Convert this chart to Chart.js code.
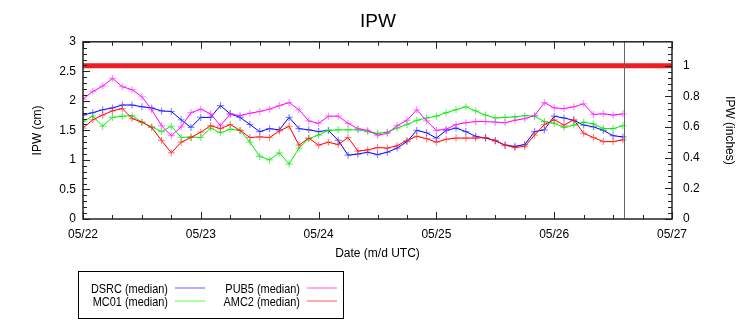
<!DOCTYPE html>
<html>
<head>
<meta charset="utf-8">
<script src="https://cdn.jsdelivr.net/npm/chart.js@4"></script>
<style>
  body { margin: 0; background: #fff; }
</style>
</head>
<body>
<canvas id="ipwChart" width="756" height="324"></canvas>
<script>
// hours since 05/22 00:00 UTC
const hours = [0, 2, 4, 6, 8, 10, 12, 14, 16, 18, 20, 22, 24, 26, 28, 30, 32, 34, 36, 38,
  40, 42, 44, 46, 48, 50, 52, 54, 56, 58, 60, 62, 64, 66, 68, 70, 72, 74, 76, 78,
  80, 82, 84, 86, 88, 90, 92, 94, 96, 98, 100, 102, 104, 106, 108, 110];

const dsrc = [1.76, 1.80, 1.85, 1.88, 1.93, 1.93, 1.90, 1.88, 1.83, 1.82, 1.68, 1.55, 1.72, 1.72, 1.92, 1.78, 1.72, 1.60, 1.48, 1.53,
  1.51, 1.72, 1.53, 1.51, 1.48, 1.50, 1.33, 1.08, 1.10, 1.13, 1.09, 1.13, 1.20, 1.31, 1.50, 1.46, 1.37, 1.50, 1.54, 1.48,
  1.40, 1.37, 1.33, 1.25, 1.23, 1.26, 1.48, 1.51, 1.74, 1.71, 1.67, 1.59, 1.56, 1.50, 1.41, 1.39];
const mc01 = [1.65, 1.74, 1.57, 1.72, 1.74, 1.75, 1.64, 1.56, 1.48, 1.57, 1.38, 1.39, 1.38, 1.54, 1.46, 1.52, 1.50, 1.30, 1.06, 1.00,
  1.12, 0.93, 1.20, 1.36, 1.42, 1.50, 1.51, 1.51, 1.51, 1.48, 1.45, 1.47, 1.54, 1.60, 1.67, 1.71, 1.74, 1.80, 1.85, 1.90,
  1.83, 1.76, 1.71, 1.72, 1.73, 1.75, 1.74, 1.65, 1.62, 1.55, 1.59, 1.64, 1.61, 1.53, 1.53, 1.58];
const pub5 = [2.03, 2.16, 2.25, 2.38, 2.24, 2.19, 2.07, 1.85, 1.58, 1.41, 1.56, 1.80, 1.86, 1.78, 1.58, 1.78, 1.75, 1.79, 1.82, 1.86,
  1.92, 1.97, 1.85, 1.66, 1.62, 1.74, 1.74, 1.62, 1.53, 1.50, 1.42, 1.45, 1.58, 1.67, 1.85, 1.66, 1.50, 1.52, 1.60, 1.63,
  1.65, 1.65, 1.64, 1.63, 1.67, 1.70, 1.75, 1.97, 1.88, 1.87, 1.90, 1.95, 1.77, 1.78, 1.76, 1.78];
const amc2 = [1.54, 1.68, 1.76, 1.83, 1.87, 1.70, 1.64, 1.55, 1.33, 1.12, 1.30, 1.38, 1.47, 1.58, 1.53, 1.60, 1.50, 1.38, 1.39, 1.38,
  1.49, 1.57, 1.25, 1.37, 1.25, 1.30, 1.26, 1.38, 1.15, 1.17, 1.21, 1.20, 1.24, 1.33, 1.40, 1.36, 1.30, 1.35, 1.37, 1.37,
  1.37, 1.38, 1.32, 1.25, 1.21, 1.23, 1.42, 1.60, 1.68, 1.59, 1.68, 1.45, 1.38, 1.31, 1.31, 1.34];

const dayLabels = ['05/22', '05/23', '05/24', '05/25', '05/26', '05/27'];
const cmTicks = [0, 0.5, 1, 1.5, 2, 2.5, 3];
const inchTicks = [0, 0.2, 0.4, 0.6, 0.8, 1];
const thresholdCm = 2.593;   // red line
const nowHour = 110.2;       // grey vertical line (time of plot)

function pts(arr) {
  return arr.map((v, i) => ({ x: hours[i], y: v }));
}

function series(label, arr, line, marker, legendColor) {
  return {
    label: label,
    data: pts(arr),
    borderColor: line,
    backgroundColor: marker,
    pointBorderColor: marker,
    pointStyle: 'cross',
    pointRadius: 3.5,
    pointBorderWidth: 1.2,
    borderWidth: 1,
    tension: 0,
    legendColor: legendColor
  };
}

const fontFamily = '"Liberation Sans", Arial, sans-serif';

// gnuplot-like frame with inward ticks
const framePlugin = {
  id: 'frame',
  afterDatasetsDraw(chart) {
    const { ctx, chartArea: a, scales } = chart;
    const tick = (x1, y1, x2, y2) => { ctx.moveTo(x1, y1); ctx.lineTo(x2, y2); };
    ctx.save();
    ctx.strokeStyle = '#222';
    ctx.lineWidth = 1;
    ctx.beginPath();
    // x ticks, every 6 h, major each day
    for (let h = 0; h <= 120; h += 6) {
      const x = Math.round(scales.x.getPixelForValue(h)) + 0.5;
      const len = h % 24 === 0 ? 7 : 4;
      tick(x, a.bottom, x, a.bottom - len);
      tick(x, a.top, x, a.top + len);
    }
    // left ticks every 0.1 cm
    for (let i = 0; i <= 30; i++) {
      const y = Math.round(scales.y.getPixelForValue(i / 10)) + 0.5;
      tick(a.left, y, a.left + (i % 5 === 0 ? 7 : 4), y);
    }
    // right ticks every 0.04 in
    for (let i = 0; i * 0.04 <= scales.y2.max; i++) {
      const y = Math.round(scales.y2.getPixelForValue(i * 0.04)) + 0.5;
      tick(a.right, y, a.right - (i % 5 === 0 ? 7 : 4), y);
    }
    ctx.stroke();
    // now line
    ctx.strokeStyle = '#666';
    ctx.beginPath();
    const nx = Math.round(scales.x.getPixelForValue(nowHour)) + 0.5;
    tick(nx, a.top, nx, a.bottom);
    ctx.stroke();
    // frame
    ctx.strokeStyle = '#222';
    ctx.lineWidth = 1.5;
    ctx.strokeRect(a.left, a.top, a.right - a.left, a.bottom - a.top);
    ctx.restore();
  }
};

// legend box under the plot: text right aligned, sample line to the right
const legendPlugin = {
  id: 'boxLegend',
  afterDraw(chart) {
    const { ctx, chartArea: a } = chart;
    const bx = a.left - 5, by = 271, bw = 265, bh = 47;
    ctx.save();
    ctx.strokeStyle = '#000';
    ctx.lineWidth = 1;
    ctx.strokeRect(bx + 0.5, by + 0.5, bw, bh);
    ctx.font = '13px ' + fontFamily;
    ctx.fillStyle = '#000';
    ctx.textAlign = 'right';
    ctx.textBaseline = 'middle';
    const sets = chart.data.datasets.filter(d => d.legendColor);
    sets.forEach((d, i) => {
      const col = Math.floor(i / 2), row = i % 2;
      const tx = bx + 90 + col * 132;
      const ty = by + 18 + row * 13;
      // gnuplot's font is narrower than Liberation Sans
      ctx.save();
      ctx.translate(tx, ty);
      ctx.scale(0.84, 1);
      ctx.fillText(d.label, 0, 0);
      ctx.restore();
      ctx.strokeStyle = d.legendColor;
      ctx.lineWidth = 2;
      ctx.beginPath();
      ctx.moveTo(tx + 7, ty - 1);
      ctx.lineTo(tx + 37, ty - 1);
      ctx.stroke();
    });
    ctx.restore();
  }
};

const font = { family: fontFamily, size: 12 };

new Chart(document.getElementById('ipwChart').getContext('2d'), {
  type: 'line',
  data: {
    datasets: [
      {
        label: 'limit',
        data: [{ x: 0, y: thresholdCm }, { x: 120, y: thresholdCm }],
        borderColor: '#ee1d23',
        borderWidth: 5,
        pointRadius: 0,
        order: 0
      },
      Object.assign(series('DSRC (median)', dsrc, '#0000ff', 'rgba(40,40,255,0.55)', '#aab0ff'), { order: 4 }),
      Object.assign(series('MC01 (median)', mc01, '#00ee00', 'rgba(0,230,0,0.55)', '#aaffaa'), { order: 3 }),
      Object.assign(series('PUB5 (median)', pub5, '#ff00ff', 'rgba(255,40,255,0.55)', '#ffaaff'), { order: 2 }),
      Object.assign(series('AMC2 (median)', amc2, '#ff0000', 'rgba(255,40,40,0.55)', '#ffaaaa'), { order: 1 })
    ]
  },
  options: {
    responsive: false,
    animation: false,
    layout: { padding: 0 },
    plugins: {
      legend: { display: false },
      tooltip: { enabled: false },
      title: {
        display: true,
        text: 'IPW',
        color: '#000',
        font: { family: fontFamily, size: 19, weight: 'normal' },
        padding: { top: 10, bottom: 9 }
      }
    },
    scales: {
      x: {
        type: 'linear',
        min: 0,
        max: 120,
        afterFit: s => { s.height = 105; },
        grid: { display: false, drawTicks: false },
        border: { display: false },
        ticks: {
          stepSize: 24,
          autoSkip: false,
          maxRotation: 0,
          padding: 8,
          color: '#000',
          font: font,
          callback: v => dayLabels[v / 24]
        },
        title: {
          display: true,
          text: 'Date (m/d UTC)',
          color: '#000',
          font: font,
          padding: { top: 0, bottom: 63 }
        }
      },
      y: {
        position: 'left',
        min: 0,
        max: 3,
        afterFit: s => { s.width = 83; },
        afterBuildTicks: s => { s.ticks = cmTicks.map(v => ({ value: v })); },
        grid: { display: false, drawTicks: false },
        border: { display: false },
        ticks: { padding: 7, color: '#000', font: font, callback: v => String(v) },
        title: {
          display: true,
          text: 'IPW (cm)',
          color: '#000',
          font: font,
          padding: { top: 30, bottom: 0 }
        }
      },
      y2: {
        position: 'right',
        min: 0,
        max: 1.157,
        afterFit: s => { s.width = 84; },
        afterBuildTicks: s => { s.ticks = inchTicks.map(v => ({ value: v })); },
        grid: { display: false, drawTicks: false },
        border: { display: false },
        ticks: { padding: 11, color: '#000', font: font, callback: v => String(v) },
        title: {
          display: true,
          text: 'IPW (inches)',
          color: '#000',
          font: font,
          padding: { top: 19, bottom: 0 }
        }
      }
    }
  },
  plugins: [framePlugin, legendPlugin]
});
</script>
</body>
</html>
